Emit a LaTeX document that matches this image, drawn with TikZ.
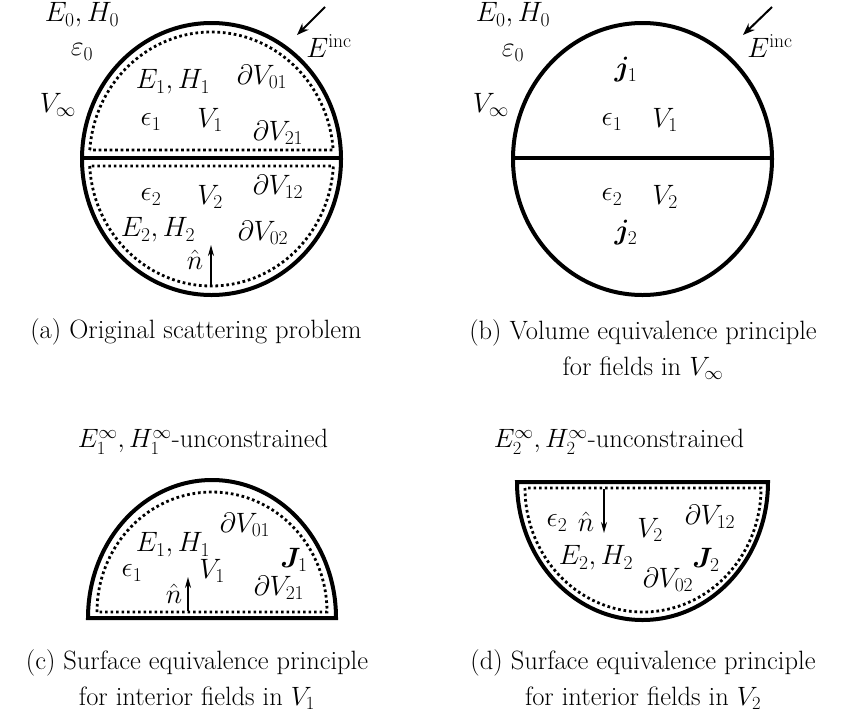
\RequirePackage{fix-cm}
\documentclass[tikz,border=0pt]{standalone}
\usepackage{amsmath,bm}
\usetikzlibrary{arrows.meta}
\begin{document}
\begin{tikzpicture}[x=1pt,y=-1pt,
 lab/.style={inner sep=0pt, font=\fontsize{28}{34}\selectfont},
 captext/.style={inner sep=0pt, align=center, font=\fontsize{26.5}{36}\selectfont},
 outline/.style={line width=4pt, line join=miter},
 midline/.style={line width=3.5pt},
 dotline/.style={line width=2.8pt, dash pattern=on 2.7pt off 2.8pt},
 incarrow/.style={line width=2pt,-{Stealth[length=12pt,width=9pt]}},
 narrow/.style={line width=1.6pt,-{Stealth[length=11pt,width=6pt]}}]
\useasboundingbox (0,0) rectangle (842,718);

% ---------------- (a) ----------------
\draw[outline] (211.5,159) ellipse [x radius=129.5pt, y radius=136pt];
\coordinate (aL) at (82,158);
\coordinate (aR) at (341,158);
\draw[midline] (aL) -- (aR);
\draw[dotline] (89.8,150) arc[start angle=175.94, end angle=4.06, x radius=122pt, y radius=127pt] -- cycle;
\draw[dotline] (89.7,166) arc[start angle=183.16, end angle=356.84, x radius=122pt, y radius=127pt] -- cycle;
\coordinate (aIncS) at (325,7);
\coordinate (aIncE) at (297,35);
\draw[incarrow] (aIncS) -- (aIncE);
\node[lab] (aInc) at (329,46) {$E^{\mathrm{inc}}$};
\node[lab] (aE0) at (82,15) {$E_0, H_0$};
\node[lab] (aeps0) at (82,52) {$\varepsilon_0$};
\node[lab] (aVinf) at (58,105) {$V_\infty$};
\node[lab] (aE1) at (173,82) {$E_1, H_1$};
\node[lab] (adV01) at (262,77) {$\partial V_{01}$};
\node[lab] (aeps1) at (151,122) {$\epsilon_1$};
\node[lab] (aV1) at (210,120) {$V_1$};
\node[lab] (adV21) at (278,133) {$\partial V_{21}$};
\node[lab] (adV12) at (278,187) {$\partial V_{12}$};
\node[lab] (aeps2) at (151,197) {$\epsilon_2$};
\node[lab] (aV2) at (210,197) {$V_2$};
\node[lab] (aE2) at (158,230) {$E_2, H_2$};
\node[lab] (adV02) at (263,233) {$\partial V_{02}$};
\node[lab] (an) at (195,260) {$\hat{n}$};
\coordinate (anS) at (211,285);
\coordinate (anE) at (211,245);
\draw[narrow] (anS) -- (anE);
\node[captext] (capa) at (196,332) {(a) Original scattering problem};

% ---------------- (b) ----------------
\draw[outline] (642.5,159) ellipse [x radius=129.5pt, y radius=136pt];
\coordinate (bL) at (513,158);
\coordinate (bR) at (772,158);
\draw[midline] (bL) -- (bR);
\coordinate (bIncS) at (772,7);
\coordinate (bIncE) at (743,35);
\draw[incarrow] (bIncS) -- (bIncE);
\node[lab] (bInc) at (770,46) {$E^{\mathrm{inc}}$};
\node[lab] (bE0) at (513,15) {$E_0, H_0$};
\node[lab] (beps0) at (513,53) {$\varepsilon_0$};
\node[lab] (bVinf) at (491,105) {$V_\infty$};
\node[lab] (bj1) at (626,70) {$\bm{j}_1$};
\node[lab] (beps1) at (612,122) {$\epsilon_1$};
\node[lab] (bV1) at (665,120) {$V_1$};
\node[lab] (beps2) at (612,197) {$\epsilon_2$};
\node[lab] (bV2) at (665,197) {$V_2$};
\node[lab] (bj2) at (626,233) {$\bm{j}_2$};
\node[captext] (capb) at (643,350) {(b) Volume equivalence principle\\ for fields in $V_\infty$};

% ---------------- (c) ----------------
\node[captext] (titc) at (203,442) {$E_1^\infty, H_1^\infty$-unconstrained};
\draw[outline] (88,618) arc[start angle=180, end angle=0, x radius=124pt, y radius=138pt] -- cycle;
\draw[dotline] (97,612) arc[start angle=180, end angle=0, x radius=115pt, y radius=120pt] -- cycle;
\node[lab] (cdV01) at (245,525) {$\partial V_{01}$};
\node[lab] (cE1) at (173,545) {$E_1, H_1$};
\node[lab] (cJ1) at (294,560) {$\bm{J}_1$};
\node[lab] (ceps1) at (132,573) {$\epsilon_1$};
\node[lab] (cV1) at (212,571) {$V_1$};
\node[lab] (cn) at (174,594) {$\hat{n}$};
\node[lab] (cdV21) at (279,588) {$\partial V_{21}$};
\coordinate (cnS) at (188,611);
\coordinate (cnE) at (188,577);
\draw[narrow] (cnS) -- (cnE);
\node[captext] (capc) at (197,680) {(c) Surface equivalence principle\\ for interior fields in $V_1$};

% ---------------- (d) ----------------
\node[captext] (titd) at (619,442) {$E_2^\infty, H_2^\infty$-unconstrained};
\draw[outline] (517,482) arc[start angle=180, end angle=360, x radius=125.5pt, y radius=138pt] -- cycle;
\draw[dotline] (525,488) arc[start angle=180, end angle=360, x radius=118pt, y radius=124pt] -- cycle;
\node[lab] (deps2) at (557,523) {$\epsilon_2$};
\node[lab] (dn) at (586,522) {$\hat{n}$};
\node[lab] (dV2) at (650,530) {$V_2$};
\node[lab] (ddV12) at (710,517) {$\partial V_{12}$};
\node[lab] (dE2) at (596,558) {$E_2, H_2$};
\node[lab] (dJ2) at (706,560) {$\bm{J}_2$};
\node[lab] (ddV02) at (668,580) {$\partial V_{02}$};
\coordinate (dnS) at (604,489);
\coordinate (dnE) at (604,533);
\draw[narrow] (dnS) -- (dnE);
\node[captext] (capd) at (643,680) {(d) Surface equivalence principle\\ for interior fields in $V_2$};
\end{tikzpicture}
\end{document}
